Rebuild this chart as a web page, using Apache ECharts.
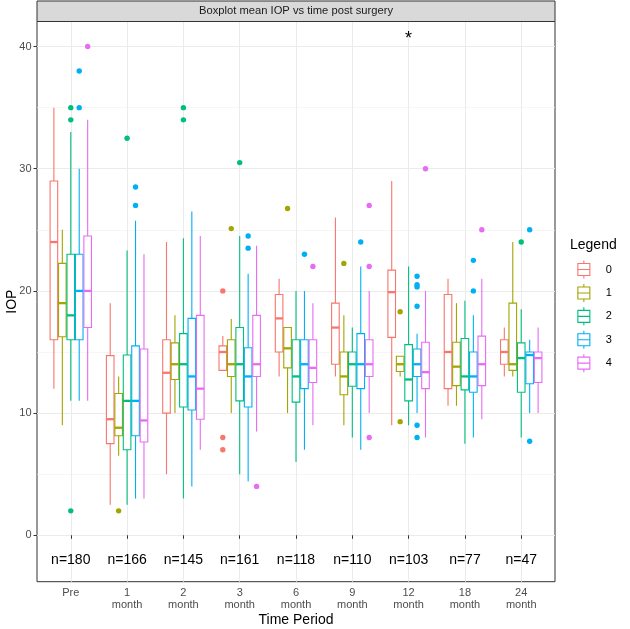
<!DOCTYPE html>
<html>
<head>
<meta charset="utf-8">
<script src="https://cdn.jsdelivr.net/npm/echarts@6/dist/echarts.min.js"></script>
<style>html,body{margin:0;padding:0;background:#fff}#c{width:630px;height:629px}</style>
</head>
<body>
<div id="c"></div>
<script>
// ---------------- data ----------------
const categories = ['Pre', '1\nmonth', '2\nmonth', '3\nmonth', '6\nmonth', '9\nmonth', '12\nmonth', '18\nmonth', '24\nmonth'];
const groups = ['0', '1', '2', '3', '4'];
const nCounts = [180, 166, 145, 161, 118, 110, 103, 77, 47];
const yTicks = [0, 10, 20, 30, 40];
const yMinorTicks = [5, 15, 25, 35];

// [lower whisker, Q1, median, Q3, upper whisker] per time period
const box0 = [[12, 16, 24, 29, 35], [2.5, 7.5, 9.5, 14.7, 19], [5, 10, 13.3, 16, 24], [13.5, 13.5, 15, 15.5, 16.3], [13, 15, 17.75, 19.7, 21], [13, 14, 17, 19, 26], [9, 16.2, 19.9, 21.7, 29], [10.6, 12, 15, 19.7, 21], [13, 14, 15, 16, 17]];
const box1 = [[9, 16.25, 19, 22.25, 25], [6.5, 8.15, 8.8, 11.6, 13], [10, 12.75, 14, 15.75, 18], [10, 13, 14, 16, 17.7], [10, 13.7, 15.3, 17, 17], [9, 11.5, 13, 15, 18], [13, 13.4, 14, 14.65, 14.65], [10.6, 12.25, 13.8, 15.8, 19], [13, 13.5, 14, 19, 24]];
const box2 = [[11, 16, 18, 23, 33], [2.5, 7, 11, 14.75, 23.3], [3, 10.5, 14, 16.5, 24.3], [5, 11, 14, 17, 24.5], [6, 10.9, 13, 16, 20], [8, 12.2, 14, 15, 17], [9, 11, 12.75, 15.6, 22], [7.5, 11.9, 13, 16.1, 19.2], [8, 11.7, 14.5, 15.75, 18.5]];
const box3 = [[11, 16, 20, 23, 30], [3, 8.15, 11, 15.5, 25.75], [4, 10.25, 13, 17.75, 26.5], [4.4, 10.5, 13, 15.35, 21.4], [7, 12, 14, 16, 20], [7, 12, 14, 16.5, 22], [10, 13, 14, 15.25, 16.5], [8, 11.7, 13, 15, 18], [10, 12.4, 14.75, 15, 16]];
const box4 = [[11, 17, 20, 24.5, 34], [3, 7.63, 9.4, 15.25, 23], [7, 9.5, 12, 18, 24.5], [8.5, 13, 14, 18, 23.7], [9, 12.5, 13.7, 16, 19], [10, 13, 14, 16, 20], [8, 12, 13.35, 15.8, 20], [9.5, 12.25, 14, 16.3, 21], [10, 12.5, 14.5, 15, 17]];

// outliers: [time period index, value]
const out0 = [[3, 20], [3, 8], [3, 7]];
const out1 = [[1, 2], [3, 25.1], [4, 26.75], [5, 22.25], [6, 18.3], [6, 9.3]];
const out2 = [[0, 35], [0, 34], [0, 2], [1, 32.5], [2, 35], [2, 34], [3, 30.5], [8, 24]];
const out3 = [[0, 38], [0, 35], [1, 28.5], [1, 27], [3, 24.5], [3, 23.5], [4, 23], [5, 24], [6, 21.2], [6, 20.5], [6, 20.33], [6, 18.75], [6, 9], [6, 8], [7, 22.5], [7, 20], [8, 25], [8, 7.7]];
const out4 = [[0, 40], [3, 4], [4, 22], [5, 27], [5, 22], [5, 8], [6, 30], [7, 25]];

const sigCategory = 6;      // '12 month' carries the asterisk
const sigValue = 41;
const nLabelValue = -1.9;

const boxes = [box0, box1, box2, box3, box4];
const outliers = [out0, out1, out2, out3, out4];

// ---------------- style / layout ----------------
const colors = ['#F8766D', '#A3A500', '#00BF7D', '#00B0F6', '#E76BF3'];
const FONT = "'Liberation Sans', Arial, Helvetica, sans-serif";
const Y_MIN = -3.8, Y_MAX = 42.05;
const PANEL = { left: 37, top: 21.5, width: 518, height: 560.2 };
const BAND = PANEL.width / 9.2;
const DATA_GRID = { left: PANEL.left + 0.6 * BAND, top: PANEL.top, width: 8 * BAND, height: PANEL.height };
const LW = 1.1;

function bandOf(api) {
  return api.coord([1, 0])[0] - api.coord([0, 0])[0];
}

function boxRenderer(k) {
  const color = colors[k];
  return function (params, api) {
    const i = api.value(0);
    const band = bandOf(api);
    const x = api.coord([i, 0])[0] + (k - 2) * 0.15 * band;
    const hw = 0.135 * band / 2;
    const yLo = api.coord([i, api.value(1)])[1];
    const yQ1 = api.coord([i, api.value(2)])[1];
    const yMed = api.coord([i, api.value(3)])[1];
    const yQ3 = api.coord([i, api.value(4)])[1];
    const yHi = api.coord([i, api.value(5)])[1];
    const ls = { stroke: color, lineWidth: LW };
    return {
      type: 'group',
      children: [
        { type: 'line', shape: { x1: x, y1: yQ3, x2: x, y2: yHi }, style: ls },
        { type: 'line', shape: { x1: x, y1: yQ1, x2: x, y2: yLo }, style: ls },
        { type: 'rect', shape: { x: x - hw, y: yQ3, width: 2 * hw, height: yQ1 - yQ3 }, style: { fill: '#fff', stroke: color, lineWidth: LW } },
        { type: 'line', shape: { x1: x - hw, y1: yMed, x2: x + hw, y2: yMed }, style: { stroke: color, lineWidth: 2.3 } }
      ]
    };
  };
}

function outlierRenderer(k) {
  const color = colors[k];
  return function (params, api) {
    const i = api.value(0);
    const band = bandOf(api);
    const p = api.coord([i, api.value(1)]);
    return { type: 'circle', shape: { cx: p[0] + (k - 2) * 0.15 * band, cy: p[1], r: 2.7 }, style: { fill: color } };
  };
}

const series = [];
groups.forEach(function (g, k) {
  series.push({
    type: 'custom', name: g, xAxisIndex: 1, yAxisIndex: 2, clip: false,
    itemStyle: { color: colors[k] },
    data: boxes[k].map(function (b, i) { return [i].concat(b); }),
    encode: { x: 0, y: [1, 2, 3, 4, 5] },
    renderItem: boxRenderer(k), z: 3
  });
});
groups.forEach(function (g, k) {
  series.push({
    type: 'custom', name: g, xAxisIndex: 1, yAxisIndex: 2, clip: false,
    itemStyle: { color: colors[k] },
    data: outliers[k],
    encode: { x: 0, y: 1 },
    renderItem: outlierRenderer(k), z: 4
  });
});
// n= labels
series.push({
  type: 'custom', name: 'nlabels', xAxisIndex: 1, yAxisIndex: 2, clip: false,
  data: nCounts.map(function (n, i) { return [i, nLabelValue, n]; }),
  encode: { x: 0, y: 1 },
  renderItem: function (params, api) {
    const p = api.coord([api.value(0), api.value(1)]);
    return { type: 'text', x: p[0], y: p[1] + 1.5, style: { text: 'n=' + api.value(2), fontSize: 14, fontFamily: FONT, fill: '#000', align: 'center', verticalAlign: 'middle' } };
  }, z: 5
});
// significance asterisk
series.push({
  type: 'custom', name: 'sig', xAxisIndex: 1, yAxisIndex: 2, clip: false,
  data: [[sigCategory, sigValue]],
  encode: { x: 0, y: 1 },
  renderItem: function (params, api) {
    const p = api.coord([api.value(0), api.value(1)]);
    return { type: 'text', x: p[0], y: p[1] + 4.5, style: { text: '*', fontSize: 18, fontFamily: FONT, fill: '#000', align: 'center', verticalAlign: 'middle' } };
  }, z: 5
});

const iconPath = 'path://M6,0L6,3M0,3L12,3L12,15L0,15ZM0,9L12,9M6,15L6,18';

const option = {
  animation: false,
  textStyle: { fontFamily: FONT },
  title: [
    { text: 'Legend', left: 570, top: 238, padding: 0, textStyle: { fontSize: 14, fontWeight: 'normal', color: '#000', fontFamily: FONT } }
  ],
  graphic: [
    { type: 'rect', shape: { x: PANEL.left, y: 1, width: PANEL.width, height: PANEL.top - 1 }, style: { fill: '#D9D9D9', stroke: '#333', lineWidth: 1 }, z: 10 },
    { type: 'text', x: PANEL.left + PANEL.width / 2, y: (PANEL.top + 1) / 2, style: { text: 'Boxplot mean IOP vs time post surgery', fontSize: 11.2, fontFamily: FONT, fill: '#1A1A1A', align: 'center', verticalAlign: 'middle' }, z: 11 }
  ],
  legend: {
    orient: 'vertical', left: 577.3, top: 260, padding: 0,
    itemWidth: 12, itemHeight: 18, itemGap: 4.3, selectedMode: false,
    data: groups.map(function (g, k) {
      return { name: g, icon: iconPath, itemStyle: { color: '#fff', borderColor: colors[k], borderWidth: LW } };
    }),
    textStyle: { fontSize: 11, color: '#000', fontFamily: FONT, padding: [0, 0, 0, 11] }
  },
  grid: [
    { left: PANEL.left, top: PANEL.top, width: PANEL.width, height: PANEL.height, show: true, borderColor: '#333', borderWidth: 1, backgroundColor: '#fff', containLabel: false, outerBoundsMode: 'none' },
    { left: DATA_GRID.left, top: DATA_GRID.top, width: DATA_GRID.width, height: DATA_GRID.height, containLabel: false, outerBoundsMode: 'none' }
  ],
  xAxis: [
    { gridIndex: 0, type: 'value', show: false, min: 0, max: 1 },
    {
      gridIndex: 1, type: 'category', data: categories, boundaryGap: false,
      axisLine: { show: false },
      axisTick: { show: true, interval: 0, length: 3.5, lineStyle: { color: '#333', width: 1 } },
      axisLabel: { interval: 0, fontSize: 11, color: '#4D4D4D', lineHeight: 12, margin: 5.5, fontFamily: FONT },
      splitLine: { show: true, interval: 0, lineStyle: { color: '#EBEBEB', width: 1 } },
      name: 'Time Period', nameLocation: 'middle', nameGap: 31, nameMoveOverlap: false,
      nameTextStyle: { fontSize: 14, color: '#000', fontFamily: FONT }
    }
  ],
  yAxis: [
    {
      gridIndex: 0, type: 'value', min: Y_MIN, max: Y_MAX,
      axisLine: { show: false },
      axisTick: { show: true, customValues: yTicks, length: 3.5, lineStyle: { color: '#333', width: 1 } },
      axisLabel: { customValues: yTicks, fontSize: 11, color: '#4D4D4D', margin: 5.5, fontFamily: FONT },
      splitLine: { show: true, lineStyle: { color: '#EBEBEB', width: 1 } },
      name: 'IOP', nameLocation: 'middle', nameGap: 18, nameMoveOverlap: false,
      nameTextStyle: { fontSize: 14, color: '#000', fontFamily: FONT }
    },
    {
      gridIndex: 0, type: 'value', min: Y_MIN, max: Y_MAX, position: 'right',
      axisLine: { show: false },
      axisTick: { show: false, customValues: yMinorTicks },
      axisLabel: { show: false, customValues: yMinorTicks },
      splitLine: { show: true, lineStyle: { color: '#F0F0F0', width: 0.6 } }
    },
    { gridIndex: 1, type: 'value', min: Y_MIN, max: Y_MAX, show: false }
  ],
  series: series
};

const chart = echarts.init(document.getElementById('c'), null, { renderer: 'canvas' });
chart.setOption(option);
</script>
</body>
</html>
